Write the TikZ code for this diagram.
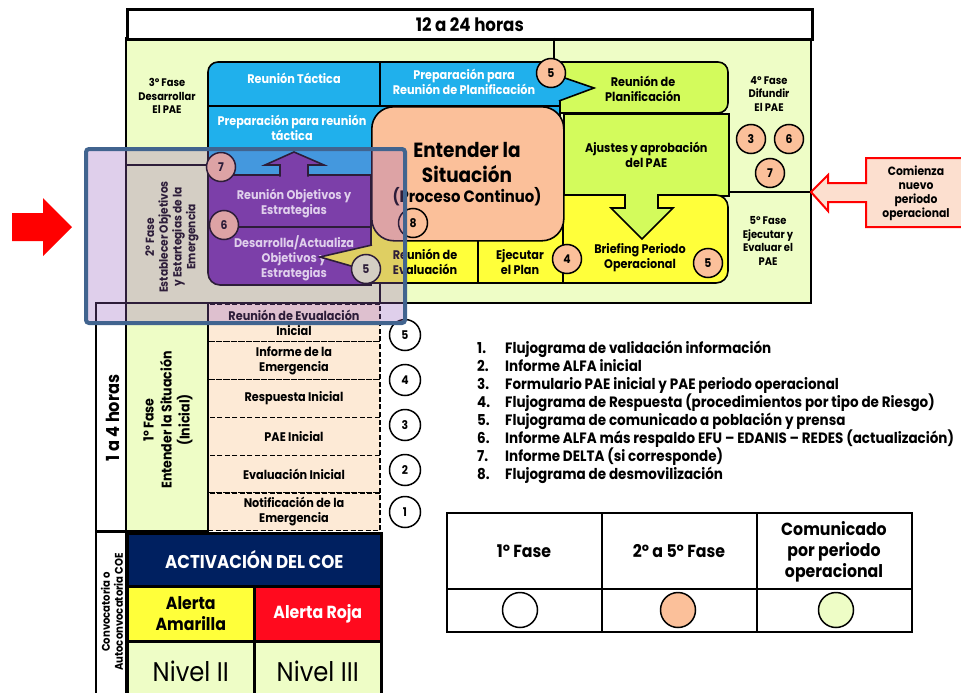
\documentclass[tikz,border=0pt]{standalone}
\usepackage{fontspec}
\setmainfont{Poppins}[FakeStretch=0.9]
\usepackage{tikz}
\definecolor{verdeclaro}{HTML}{EEFDC6}
\definecolor{azul}{HTML}{20B0EC}
\definecolor{morado}{HTML}{7030A0}
\definecolor{durazno}{HTML}{FBC09A}
\definecolor{verdefuerte}{HTML}{D3FB5C}
\definecolor{amarillo}{HTML}{FFFF3A}
\definecolor{marino}{HTML}{002060}
\definecolor{rojo}{HTML}{FF0A1E}
\definecolor{crema}{HTML}{FDEAD6}
\definecolor{rosado}{HTML}{FCDFCF}
\definecolor{marco}{HTML}{41648F}
\definecolor{velo}{RGB}{152,98,192}

\begin{document}
\begin{tikzpicture}[x=1pt, y=-1pt,
    txt/.style={align=center, inner sep=0pt, font=\bfseries\fontsize{12.5}{15}\selectfont},
    lado/.style={align=center, inner sep=0pt, font=\bfseries\fontsize{11}{13.5}\selectfont},
    num/.style={circle, draw, line width=1.5pt, fill=durazno, minimum size=29pt, inner sep=0pt, font=\bfseries\fontsize{12}{12}\selectfont},
    numb/.style={num, fill=white, minimum size=31pt},
    borde/.style={line width=1.6pt},
    marcog/.style={line width=2.6pt},
    fila/.style={draw, dash pattern=on 5pt off 2.5pt, line width=1.3pt, fill=crema, minimum width=172pt, minimum height=37.8pt, txt},
    leyenda/.style={inner sep=0pt, font=\bfseries\fontsize{15}{17}\selectfont},
    tabla/.style={align=center, inner sep=0pt, font=\bfseries\fontsize{17.5}{21}\selectfont}
  ]
  \fill[white] (0,0) rectangle (961,693);
  \useasboundingbox (0,0) rectangle (961,693);

  % 12 a 24 horas
  \draw[marcog, fill=verdeclaro] (126,38) rectangle (811,303);
  \node[draw, marcog, fill=white, anchor=north west, minimum width=685pt, minimum height=30pt, font=\bfseries\fontsize{18.5}{20}\selectfont] (horas12) at (126,8) {12 a 24 horas};
  \draw[borde] (554,38) -- (554,62);
  \draw[borde] (126,165) -- (208,165);
  \draw[borde] (380,283) -- (380,303);

  % bloque azul
  \filldraw[fill=azul, borde] (208,150) [rounded corners=10] -- (208,62) -- (560,62) -- (560,90) [sharp corners] -- (560,130) -- (372,130) -- (372,176) -- (208,176) -- cycle;
  \draw[borde] (208,106) -- (560,106);
  \draw[borde] (380,62) -- (380,106);
  \node[txt, white] (tactica) at (294,78) {Reunión Táctica};
  \node[txt, white] (prepplan) at (464,82) {Preparación para\\Reunión de Planificación};
  \node[txt, white] (preptact) at (292,128) {Preparación para reunión\\táctica};

  % planificacion
  \filldraw[fill=verdefuerte, borde] (560,113) -- (560,62) -- (650,62) [rounded corners=10] -- (728,62) -- (728,113) -- (650,113) [sharp corners] -- cycle;
  \node[txt] (planif) at (643,89) {Reunión de\\Planificación};
  \filldraw[fill=azul, borde] (559,76) -- (594,88) -- (559,101);
  \node[draw, borde, fill=verdefuerte, anchor=north west, minimum width=165pt, minimum height=82pt, txt] (ajustes) at (563,113) {Ajustes y aprobación\\del PAE};

  % briefing
  \filldraw[fill=amarillo, borde] (650,283) -- (563,283) -- (563,195) -- (650,195) [rounded corners=12] -- (728,195) -- (728,283) -- cycle;
  \node[txt] (briefing) at (640,258) {Briefing Periodo\\Operacional};
  \filldraw[fill=verdefuerte, borde] (625,194) -- (625,208) -- (611,208) -- (642,239) -- (673,208) -- (658,208) -- (658,194);

  % evaluacion y ejecutar
  \filldraw[fill=amarillo, borde] (370,215) rectangle (563,283);
  \draw[borde] (478,240) -- (478,283);
  \node[txt] (evaluacion) at (425,262) {Reunión de\\Evaluación};
  \node[txt] (ejecutar) at (520,262) {Ejecutar\\el Plan};

  % entender la situacion
  \node[draw, borde, fill=durazno, rounded corners=22, anchor=north west, minimum width=192pt, minimum height=134pt] (entender) at (371,106) {};
  \node[align=center, inner sep=0pt, font=\bfseries\fontsize{20.5}{25}\selectfont] (entendertxt) at (467,162) {Entender la\\Situación};
  \node[inner sep=0pt, font=\bfseries\fontsize{16.5}{18}\selectfont] (continuo) at (467,197) {(Proceso Continuo)};

  % objetivos
  \filldraw[fill=morado, borde] (208,230) [rounded corners=12] -- (208,285) -- (300,285) [sharp corners] -- (371,285) -- (371,175) -- (208,175) -- cycle;
  \draw[borde] (208,227) -- (371,227);
  \filldraw[fill=morado, borde] (280,176.5) -- (280,165) -- (265,165) -- (294,152) -- (324,165) -- (308,165) -- (308,176.5);
  \node[txt, white] (reunobj) at (294,204) {Reunión Objetivos y\\Estrategias};
  \node[txt, white] (desarrolla) at (294,258) {Desarrolla/Actualiza\\Objetivos y\\Estrategias};
  \filldraw[fill=amarillo, borde] (372,245) -- (320,257) -- (372,272);

  % circulos
  \node[num] (c5a) at (551,73) {5};
  \node[num] (c7a) at (221,167) {7};
  \node[num] (c6a) at (224,225) {6};
  \node[num] (c8) at (413,223) {8};
  \node[num, fill=verdeclaro] (c5b) at (366,269) {5};
  \node[num] (c4) at (567,259) {4};
  \node[num] (c5c) at (708,263) {5};
  \node[num] (c3) at (751,139) {3};
  \node[num] (c6b) at (789,139) {6};
  \node[num] (c7b) at (770,173) {7};

  % fases
  \node[lado] (fase3) at (167,96) {3º Fase\\Desarrollar\\El PAE};
  \node[lado] (fase4) at (769,94) {4º Fase\\Difundir\\El PAE};
  \node[lado] (fase5) at (768,241) {5º Fase\\Ejecutar y\\Evaluar el\\PAE};
  \node[lado, rotate=90, font=\bfseries\fontsize{11.8}{13.8}\selectfont] (fase2) at (172,237) {2º Fase\\Establecer Objetivos\\y Estartegias de la\\Emergencia};
  \draw[marcog] (728,192) -- (811,192);

  % 1 a 4 horas
  \draw[marcog] (96,303) rectangle (126,531);
  \node[rotate=90, inner sep=0pt, font=\bfseries\fontsize{18}{19}\selectfont] (horas1) at (113,418) {1 a 4 horas};
  \filldraw[marcog, fill=verdeclaro] (126,303) rectangle (208,531);
  \node[rotate=90, align=center, inner sep=0pt, font=\bfseries\fontsize{14}{18}\selectfont] (fase1) at (168,420) {1º Fase\\Entender la Situación\\(Inicial)};
  \foreach \t [count=\i] in {{Reunión de Evualación\\Inicial}, {Informe de la\\Emergencia}, Respuesta Inicial, PAE Inicial, Evaluación Inicial, {Notificación de la\\Emergencia}}
    \node[fila] (fila\i) at (294, {304+37.8*(\i-0.5)}) {\t};
  \draw[marcog] (208,303) -- (208,531);
  \foreach \n/\y in {5/335, 4/380, 3/425, 2/470, 1/512}
    \node[numb] (b\n) at (405,\y) {\n};

  % activacion
  \draw[marcog] (96,532) rectangle (126,700);
  \node[rotate=90, align=center, inner sep=0pt, font=\bfseries\fontsize{11.2}{13}\selectfont] (convoca) at (112,612) {Convocatoria o\\Autoconvocatoria COE};
  \node[draw, marcog, fill=marino, text=white, anchor=north west, minimum width=254pt, minimum height=53pt, font=\bfseries\fontsize{18.5}{20}\selectfont] (activa) at (126,532) {ACTIVACIÓN DEL COE};
  \node[draw, marcog, fill=amarillo, anchor=north west, minimum width=127pt, minimum height=55pt, align=center, font=\bfseries\fontsize{17.5}{21}\selectfont] (amarilla) at (126,585) {Alerta\\Amarilla};
  \node[draw, marcog, fill=rojo, text=white, anchor=north west, minimum width=127pt, minimum height=55pt, font=\bfseries\fontsize{17.5}{21}\selectfont] (roja) at (253,585) {Alerta Roja};
  \node[draw, marcog, fill=verdeclaro, anchor=north west, minimum width=127pt, minimum height=60pt, font=\fontsize{27}{29}\selectfont] (nivel2) at (126,640) {Nivel II};
  \node[draw, marcog, fill=verdeclaro, anchor=north west, minimum width=127pt, minimum height=60pt, font=\fontsize{27}{29}\selectfont] (nivel3) at (253,640) {Nivel III};

  % recuadro resaltado
  \filldraw[fill=velo, fill opacity=0.3, draw=marco, line width=4pt, rounded corners=3] (86,149) rectangle (405,323);

  % flecha roja y nuevo periodo
  \fill[red] (12,213) -- (43,213) -- (43,198) -- (72,227) -- (43,256) -- (43,241) -- (12,241) -- cycle;
  \filldraw[fill=rosado, draw=red, line width=2pt] (965,158) -- (866,158) -- (866,183) -- (828,183) -- (828,175) -- (811,192) -- (828,211) -- (828,202) -- (866,202) -- (866,227) -- (965,227);
  \node[align=center, inner sep=0pt, font=\bfseries\fontsize{12}{14}\selectfont] (nuevo) at (916,193) {Comienza\\nuevo\\periodo\\operacional};

  % leyenda
  \foreach \t [count=\i] in {Flujograma de validación información, Informe ALFA inicial, Formulario PAE inicial y PAE periodo operacional, Flujograma de Respuesta (procedimientos por tipo de Riesgo), Flujograma de comunicado a población y prensa, Informe ALFA más respaldo EFU – EDANIS – REDES (actualización), Informe DELTA (si corresponde), Flujograma de desmovilización} {
    \node[leyenda, anchor=base west] (nl\i) at (477, {353+18.1*(\i-1)}) {\i.};
    \node[leyenda, anchor=base west] (item\i) at (505, {353+18.1*(\i-1)}) {\t};
  }

  % tabla
  \draw[line width=1.3pt] (447,513) rectangle (912,632);
  \draw[line width=2pt] (447,589) -- (912,589);
  \draw[line width=1.3pt] (602,513) -- (602,632);
  \draw[line width=1.3pt] (757,513) -- (757,632);
  \node[tabla] (col1) at (524,551) {1º Fase};
  \node[tabla] (col2) at (679,551) {2º a 5º Fase};
  \node[tabla] (col3) at (834,552) {Comunicado\\por periodo\\operacional};
  \node[circle, draw, line width=1.5pt, minimum size=35pt, fill=white] (cblanco) at (520,610) {};
  \node[circle, draw, line width=1.5pt, minimum size=35pt, fill=durazno] (cdurazno) at (678,610) {};
  \node[circle, draw, line width=1.5pt, minimum size=35pt, fill=verdeclaro] (cverde) at (836,610) {};
\end{tikzpicture}
\end{document}
